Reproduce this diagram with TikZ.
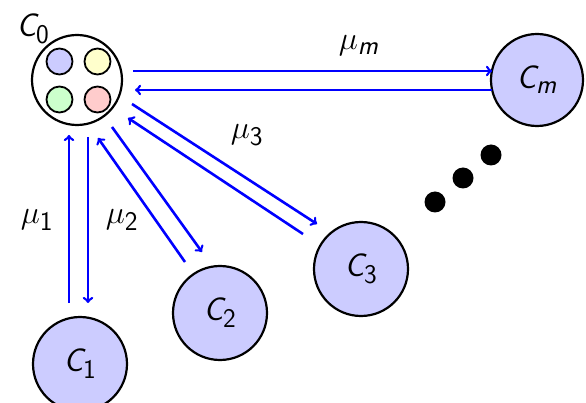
\documentclass[tikz,border=0pt]{standalone}
\usepackage{graphicx}
\usetikzlibrary{calc}
\DeclareSymbolFont{sfletters}{OT1}{cmss}{m}{sl}
\DeclareSymbolFont{sfdigits}{OT1}{cmss}{m}{n}
\DeclareMathSymbol{C}{\mathalpha}{sfletters}{`C}
\DeclareMathSymbol{m}{\mathalpha}{sfletters}{`m}
\DeclareMathSymbol{0}{\mathalpha}{sfdigits}{`0}
\DeclareMathSymbol{1}{\mathalpha}{sfdigits}{`1}
\DeclareMathSymbol{2}{\mathalpha}{sfdigits}{`2}
\DeclareMathSymbol{3}{\mathalpha}{sfdigits}{`3}
\newcommand\bigtxt[1]{\scalebox{1.3}{#1}}
\definecolor{cfill}{RGB}{204,204,255}
\definecolor{qblue}{RGB}{204,204,255}
\definecolor{qyellow}{RGB}{255,255,204}
\definecolor{qgreen}{RGB}{204,255,204}
\definecolor{qred}{RGB}{255,204,204}
\begin{document}
\begin{tikzpicture}[x=1pt,y=-1pt,
  font=\Huge,
  client/.style={circle,draw=black,line width=2.2pt,fill=cfill,minimum size=94pt,inner sep=0pt},
  hub/.style={circle,draw=black,line width=2.2pt,fill=white,minimum size=90pt,inner sep=0pt},
  queue/.style={circle,draw=black,line width=1.8pt,minimum size=26pt,inner sep=0pt},
  dot/.style={circle,fill=black,minimum size=21pt,inner sep=0pt},
  flow/.style={draw=blue,line width=2.6pt,->},
  lbl/.style={inner sep=0pt}]
\useasboundingbox (0,0) rectangle (586,403);
\node[hub] (c0) at (77,80) {};
\node[queue,fill=qblue] (q1) at (59.5,61.5) {};
\node[queue,fill=qyellow] (q2) at (97.5,61.5) {};
\node[queue,fill=qgreen] (q3) at (59.5,99.5) {};
\node[queue,fill=qred] (q4) at (97.5,99.5) {};
\node[lbl] (l0) at (33,29) {\bigtxt{$C_0$}};
\node[client] (c1) at (80,364) {\bigtxt{$C_1$}};
\node[client] (c2) at (220,313) {\bigtxt{$C_2$}};
\node[client] (c3) at (361,269) {\bigtxt{$C_3$}};
\node[client,minimum size=92pt] (cm) at (537,80) {\bigtxt{$C_m$}};
\node[dot] (d1) at (435,202) {};
\node[dot] (d2) at (463,178) {};
\node[dot] (d3) at (491,155) {};
% C1
\draw[flow] ([shift={(-11,-61)}]c1.center) -- ([shift={(-8,55)}]c0.center);
\draw[flow] ([shift={(11,57)}]c0.center) -- ([shift={(8,-61)}]c1.center);
% C2
\draw[flow] ([shift={(-35,-51)}]c2.center) -- ([shift={(21,58)}]c0.center);
\draw[flow] ([shift={(35,47)}]c0.center) -- ([shift={(-18,-61)}]c2.center);
% C3
\draw[flow] ([shift={(-58,-35)}]c3.center) -- ([shift={(51,38)}]c0.center);
\draw[flow] ([shift={(55,24)}]c0.center) -- ([shift={(-44,-45)}]c3.center);
% Cm
\draw[flow] ([shift={(56,-9)}]c0.center) -- ([shift={(-45,-9)}]cm.center);
\draw[flow] ([shift={(-45,10)}]cm.center) -- ([shift={(58,10)}]c0.center);
\node[lbl] (lm) at (359,46) {\bigtxt{$\mu_m$}};
\node[lbl] (l1) at (37,220) {\bigtxt{$\mu_1$}};
\node[lbl] (l2) at (122,220) {\bigtxt{$\mu_2$}};
\node[lbl] (l3) at (247,135) {\bigtxt{$\mu_3$}};
\end{tikzpicture}
\end{document}
